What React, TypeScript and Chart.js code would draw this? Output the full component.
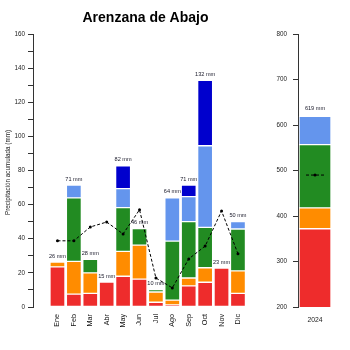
import React, { useEffect, useRef } from "react";
import { Chart, registerables } from "chart.js";

Chart.register(...registerables);

const FONT = "'Liberation Sans', Arial, sans-serif";

// ---- Monthly data (mm) ----
const months = ["Ene", "Feb", "Mar", "Abr", "May", "Jun", "Jul", "Ago", "Sep", "Oct", "Nov", "Dic"];
const redVals = [23.5, 7.5, 8, 14.6, 18, 16.3, 2.8, 1.2, 12.4, 14.5, 22.8, 8];
const orangeVals = [2.8, 19.2, 12, null, 14.6, 20, 6, 2.8, 4.6, 8.5, null, 13.2];
const greenVals = [null, 37.3, 7.9, null, 25.6, 9.6, 1.4, 34.6, 33, 23.7, null, 24.5];
const lightBlueVals = [null, 7.4, null, null, 11.2, null, null, 25.4, 14.7, 47.8, null, 4.3];
const darkBlueVals = [null, null, null, null, 13.4, null, null, null, 6.7, 38.3, null, null];
const monthTotals = [26, 71, 28, 15, 82, 46, 10, 64, 71, 132, 23, 50];
const meanVals = [38.8, 38.8, 46.9, 49.8, 42.8, 57, 17, 11.2, 28.2, 35.7, 56.3, 31.2];

// ---- Annual data (mm) ----
const yearLabels = ["2024"];
const yearRed = [372];
const yearOrange = [46];
const yearGreen = [139];
const yearLightBlue = [62];
const yearTotals = [619];
const yearMean = [490];

// ---- Colours ----
const RED = "#EE2C2C";
const ORANGE = "#FF8C00";
const GREEN = "#228B22";
const LIGHTBLUE = "#6495ED";
const DARKBLUE = "#0000CD";
const SEG_BORDER = "rgba(255,255,255,0.45)";
const AXIS = "#333333";

const TITLE = "Arenzana de Abajo";
const Y_TITLE = "Precipitación acumulada (mm)";

type Num = number | null;

function sumAt(arrays: Num[][], i: number) {
  return arrays.reduce((s, a) => s + (a[i] ?? 0), 0);
}

function totalsPlugin(segments: Num[][], totals: number[], offset: number) {
  return {
    id: "totalsLabels",
    afterDatasetsDraw(chart: any) {
      const { ctx } = chart;
      const x = chart.scales.x;
      const y = chart.scales.y;
      ctx.save();
      ctx.font = `5.6px ${FONT}`;
      ctx.fillStyle = "#1a1a2a";
      ctx.textAlign = "center";
      ctx.textBaseline = "middle";
      totals.forEach((t, i) => {
        const px = x.getPixelForValue(i);
        const py = y.getPixelForValue(sumAt(segments, i)) - offset;
        ctx.fillText(`${t} mm`, px, py);
      });
      ctx.restore();
    },
  };
}

const titlePlugin = {
  id: "customTitles",
  afterDraw(chart: any) {
    const { ctx, chartArea } = chart;
    ctx.save();
    ctx.fillStyle = "#000";
    ctx.font = `bold 14px ${FONT}`;
    ctx.textAlign = "center";
    ctx.textBaseline = "middle";
    ctx.fillText(TITLE, (chartArea.left + chartArea.right) / 2, 18);
    ctx.translate(8, (chartArea.top + chartArea.bottom) / 2 + 2);
    ctx.rotate(-Math.PI / 2);
    ctx.font = `6.3px ${FONT}`;
    ctx.fillStyle = "#222";
    ctx.fillText(Y_TITLE, 0, 0);
    ctx.restore();
  },
};

const meanDashPlugin = {
  id: "meanDash",
  afterDatasetsDraw(chart: any) {
    const meta = chart.getDatasetMeta(4);
    if (!meta || !meta.data) return;
    const { ctx } = chart;
    ctx.save();
    ctx.strokeStyle = "#000";
    ctx.lineWidth = 1;
    ctx.setLineDash([3, 2]);
    meta.data.forEach((pt: any) => {
      ctx.beginPath();
      ctx.moveTo(pt.x - 9, pt.y);
      ctx.lineTo(pt.x + 9, pt.y);
      ctx.stroke();
    });
    ctx.restore();
  },
};

function xy(arr: Num[]) {
  return arr.map((v, i) => ({ x: i, y: v }));
}

function barDs(label: string, data: any[], color: string, thickness: number) {
  return {
    type: "bar" as const,
    label,
    data,
    backgroundColor: color,
    borderColor: SEG_BORDER,
    borderWidth: 1,
    borderSkipped: false,
    barThickness: thickness,
    order: 1,
  };
}

function leftConfig(): any {
  const segs = [redVals, orangeVals, greenVals, lightBlueVals, darkBlueVals];
  return {
    data: {
      datasets: [
        barDs("red", xy(redVals), RED, 15),
        barDs("orange", xy(orangeVals), ORANGE, 15),
        barDs("green", xy(greenVals), GREEN, 15),
        barDs("lightblue", xy(lightBlueVals), LIGHTBLUE, 15),
        barDs("darkblue", xy(darkBlueVals), DARKBLUE, 15),
        {
          type: "line",
          label: "media",
          data: xy(meanVals),
          borderColor: "#000",
          borderWidth: 1,
          borderDash: [3, 2],
          tension: 0,
          pointRadius: 1.5,
          pointBackgroundColor: "#000",
          pointBorderWidth: 0,
          stack: "mean",
          order: 0,
        },
      ],
    },
    options: {
      responsive: true,
      maintainAspectRatio: false,
      animation: false,
      layout: { padding: { left: 0, right: 4, top: 34, bottom: 0 } },
      plugins: { legend: { display: false }, tooltip: { enabled: false }, title: { display: false } },
      scales: {
        x: {
          type: "linear",
          min: -0.92,
          max: 11.65,
          stacked: true,
          grid: { display: false, drawTicks: false },
          border: { display: false },
          afterBuildTicks: (s: any) => {
            s.ticks = months.map((_, i) => ({ value: i }));
          },
          afterFit: (s: any) => {
            s.height = 43;
          },
          ticks: {
            autoSkip: false,
            minRotation: 90,
            maxRotation: 90,
            padding: 7,
            color: "#111",
            font: { family: FONT, size: 7.2 },
            callback: (v: number) => months[v],
          },
        },
        y: {
          min: 0,
          max: 160,
          stacked: true,
          grid: { display: true, drawOnChartArea: false, drawTicks: true, tickLength: 5, color: AXIS },
          border: { display: true, color: AXIS, width: 1 },
          afterFit: (s: any) => {
            s.width = 33;
          },
          ticks: {
            stepSize: 10,
            padding: 3,
            color: "#222",
            font: { family: FONT, size: 6.3 },
            callback: (v: number) => (v % 20 === 0 ? String(v) : ""),
          },
        },
      },
    },
    plugins: [totalsPlugin(segs, monthTotals, 6), titlePlugin],
  };
}

function rightConfig(): any {
  const segs = [yearRed, yearOrange, yearGreen, yearLightBlue];
  return {
    data: {
      labels: yearLabels,
      datasets: [
        barDs("red", yearRed, RED, 32),
        barDs("orange", yearOrange, ORANGE, 32),
        barDs("green", yearGreen, GREEN, 32),
        barDs("lightblue", yearLightBlue, LIGHTBLUE, 32),
        {
          type: "line",
          label: "media",
          data: yearMean,
          borderColor: "#000",
          borderWidth: 1,
          pointRadius: 1.5,
          pointBackgroundColor: "#000",
          pointBorderWidth: 0,
          stack: "mean",
          order: 0,
        },
      ],
    },
    options: {
      responsive: true,
      maintainAspectRatio: false,
      animation: false,
      layout: { padding: { left: 0, right: 18, top: 34, bottom: 0 } },
      plugins: { legend: { display: false }, tooltip: { enabled: false }, title: { display: false } },
      scales: {
        x: {
          type: "category",
          stacked: true,
          grid: { display: false, drawTicks: false },
          border: { display: false },
          afterFit: (s: any) => {
            s.height = 43;
          },
          ticks: {
            padding: 9,
            color: "#222",
            font: { family: FONT, size: 6.8 },
          },
        },
        y: {
          min: 200,
          max: 800,
          stacked: true,
          grid: { display: true, drawOnChartArea: false, drawTicks: true, tickLength: 5, color: AXIS },
          border: { display: true, color: AXIS, width: 1 },
          afterFit: (s: any) => {
            s.width = 36;
          },
          ticks: {
            stepSize: 100,
            padding: 6,
            color: "#222",
            font: { family: FONT, size: 6.3 },
          },
        },
      },
    },
    plugins: [totalsPlugin(segs, yearTotals, 8), meanDashPlugin],
  };
}

export default function App() {
  const leftRef = useRef<HTMLCanvasElement>(null);
  const rightRef = useRef<HTMLCanvasElement>(null);

  useEffect(() => {
    const left = new Chart(leftRef.current as HTMLCanvasElement, leftConfig());
    const right = new Chart(rightRef.current as HTMLCanvasElement, rightConfig());
    return () => {
      left.destroy();
      right.destroy();
    };
  }, []);

  return (
    <div style={{ position: "fixed", left: 0, top: 0, width: 350, height: 350, background: "#fff" }}>
      <div style={{ position: "absolute", left: 0, top: 0, width: 262, height: 350 }}>
        <canvas ref={leftRef} />
      </div>
      <div style={{ position: "absolute", left: 262, top: 0, width: 88, height: 350 }}>
        <canvas ref={rightRef} />
      </div>
    </div>
  );
}
